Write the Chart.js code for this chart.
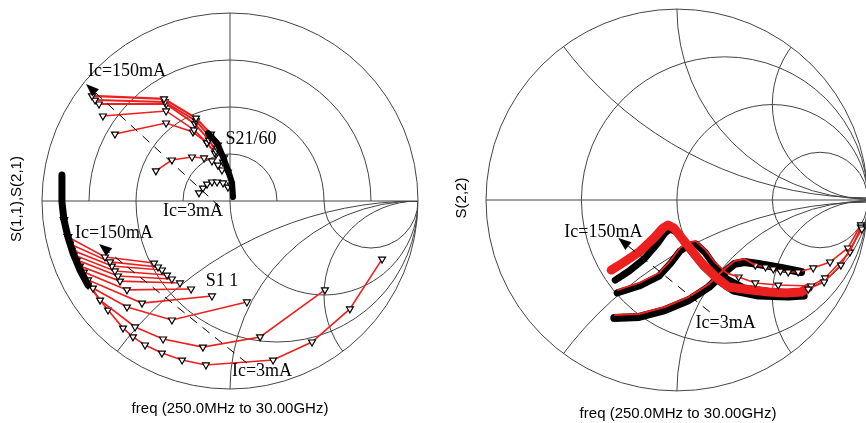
<!DOCTYPE html>
<html lang="en">
<head>
<meta charset="UTF-8" />
<title>S-parameter Smith charts</title>
<script src="https://cdn.jsdelivr.net/npm/chart.js"></script>
<style>
  * { margin: 0; padding: 0; box-sizing: border-box; }
  body { background: #fff; width: 866px; height: 423px; overflow: hidden; position: relative; }
  canvas { position: absolute; top: 0; }
  #left { left: 0; }
  #right { left: 433px; }
</style>
</head>
<body>
<canvas id="left" width="433" height="423"></canvas>
<canvas id="right" width="440" height="423"></canvas>
<script>
// ---- data: reflection coefficient points [re, im] ----
// S21/60 traces (upper half of left chart), Ic = 150mA ... 3mA
const s21Ic150 = [[-0.734,0.559],[-0.351,0.543],[-0.181,0.441],[-0.101,0.356],[-0.064,0.298],[-0.032,0.229],[-0.011,0.154],[0.005,0.085]];
const s21IcB = [[-0.718,0.537],[-0.346,0.527],[-0.181,0.426],[-0.106,0.340],[-0.069,0.282],[-0.037,0.207]];
const s21IcC = [[-0.697,0.516],[-0.340,0.516],[-0.186,0.410],[-0.112,0.324],[-0.074,0.266]];
const s21IcD = [[-0.676,0.452],[-0.340,0.479],[-0.191,0.378],[-0.122,0.309],[-0.080,0.255]];
const s21IcE = [[-0.612,0.356],[-0.340,0.415],[-0.197,0.367],[-0.122,0.309],[-0.074,0.250]];
const s21IcF = [[-0.394,0.160],[-0.309,0.218],[-0.202,0.234],[-0.138,0.229],[-0.096,0.213],[-0.064,0.191],[-0.043,0.165]];
const s21Ic3 = [[-0.165,0.043],[-0.144,0.069],[-0.122,0.090],[-0.096,0.101],[-0.069,0.101],[-0.037,0.096],[-0.011,0.074]];
const s21HighFreq = [[-0.117,0.362],[-0.069,0.309],[-0.037,0.234],[-0.011,0.165],[0.011,0.096],[0.016,0.021]];

// S11 traces (lower half of left chart)
const s11LowFreq = [[-0.894,0.138],[-0.894,-0.005],[-0.883,-0.101],[-0.862,-0.191],[-0.835,-0.277],[-0.798,-0.367],[-0.755,-0.447]];
const s11Ic150 = [[-0.883,-0.101],[-0.862,-0.191],[-0.665,-0.298],[-0.404,-0.330]];
const s11Ic2 = [[-0.883,-0.101],[-0.851,-0.229],[-0.638,-0.324],[-0.383,-0.351]];
const s11Ic3 = [[-0.883,-0.101],[-0.840,-0.261],[-0.628,-0.346],[-0.362,-0.367]];
const s11Ic4 = [[-0.883,-0.101],[-0.830,-0.287],[-0.612,-0.372],[-0.335,-0.394]];
const s11Ic5 = [[-0.862,-0.191],[-0.814,-0.314],[-0.596,-0.399],[-0.309,-0.415]];
const s11Ic6 = [[-0.862,-0.191],[-0.798,-0.346],[-0.585,-0.426],[-0.266,-0.436]];
const s11Ic7 = [[-0.862,-0.191],[-0.777,-0.378],[-0.548,-0.473],[-0.207,-0.468]];
const s11Ic8 = [[-0.862,-0.191],[-0.755,-0.420],[-0.468,-0.543],[-0.096,-0.505]];
const s11Ic9 = [[-0.835,-0.277],[-0.729,-0.463],[-0.548,-0.564],[-0.309,-0.633],[0.090,-0.537]];
const s11Ic10 = [[-0.798,-0.367],[-0.691,-0.527],[-0.505,-0.670],[-0.356,-0.734],[-0.144,-0.777],[0.160,-0.723],[0.505,-0.473]];
const s11Ic3mA = [[-0.755,-0.447],[-0.649,-0.580],[-0.569,-0.676],[-0.516,-0.723],[-0.452,-0.766],[-0.362,-0.809],[-0.255,-0.846],[-0.128,-0.872],[0.229,-0.846],[0.436,-0.750],[0.638,-0.574],[0.809,-0.309]];

// S22 traces (right chart)
const s22HighBandBlack = [[-0.323,-0.417],[-0.250,-0.370],[-0.172,-0.307],[-0.104,-0.229],[-0.063,-0.172],[-0.036,-0.151],[0,-0.167],[0.073,-0.266],[0.141,-0.349],[0.219,-0.422],[0.297,-0.474],[0.427,-0.500],[0.583,-0.505],[0.667,-0.500]];
const s22HighBandRed = [[-0.344,-0.365],[-0.276,-0.323],[-0.198,-0.271],[-0.120,-0.198],[-0.073,-0.146],[-0.047,-0.130],[-0.016,-0.146],[0.063,-0.245],[0.130,-0.328],[0.203,-0.401],[0.271,-0.453],[0.391,-0.469],[0.479,-0.479],[0.568,-0.484],[0.651,-0.479],[0.688,-0.458]];
const s22HighTail = [[0.688,-0.464],[0.771,-0.427],[0.859,-0.339],[0.969,-0.151]];
const s22MidBandBlack = [[-0.313,-0.484],[-0.198,-0.448],[-0.094,-0.396],[-0.031,-0.328],[0.016,-0.266],[0.063,-0.234],[0.099,-0.229],[0.146,-0.271],[0.198,-0.344],[0.260,-0.411],[0.349,-0.458],[0.505,-0.479],[0.661,-0.484]];
const s22MidBandRed = [[-0.313,-0.469],[-0.198,-0.432],[-0.094,-0.380],[-0.031,-0.313],[0.016,-0.250],[0.063,-0.219],[0.099,-0.214],[0.146,-0.255],[0.198,-0.323],[0.260,-0.380],[0.323,-0.401]];
const s22MidTail = [[0.323,-0.401],[0.411,-0.432],[0.531,-0.443],[0.703,-0.448],[0.776,-0.406],[0.906,-0.271],[0.964,-0.141]];
const s22LowBandBlack = [[-0.328,-0.615],[-0.198,-0.609],[-0.063,-0.573],[0.063,-0.521],[0.167,-0.453],[0.250,-0.375],[0.302,-0.333],[0.354,-0.323],[0.427,-0.333],[0.547,-0.354],[0.651,-0.375]];
const s22LowBandRed = [[-0.328,-0.599],[-0.198,-0.594],[-0.063,-0.557],[0.063,-0.505],[0.167,-0.438],[0.250,-0.359],[0.302,-0.318],[0.354,-0.307],[0.411,-0.339]];
const s22LowTail = [[0.411,-0.339],[0.464,-0.349],[0.505,-0.359],[0.542,-0.370],[0.583,-0.375],[0.635,-0.375],[0.714,-0.354],[0.802,-0.323],[0.896,-0.250],[0.964,-0.130]];

// chart grid values
const polarRings = [0.25, 0.5, 0.75];
const resistances = [1/3, 1, 3];
const reactances = [0.5, 1, 2];

const RED = 'rgb(236,32,30)';
const pts = arr => arr.map(([x, y]) => ({ x, y }));

function trace(arr, width) {
  return {
    data: pts(arr), showLine: true, borderColor: RED, borderWidth: width || 1.6,
    pointStyle: 'triangle', pointRotation: 180, pointRadius: 4,
    pointBackgroundColor: '#fff', pointBorderColor: '#000', pointBorderWidth: 1.2,
    order: 1
  };
}
function band(arr, color, width, order) {
  return {
    data: pts(arr), showLine: true, borderColor: color, borderWidth: width,
    pointRadius: 0, borderCapStyle: 'round', borderJoinStyle: 'round', order: order
  };
}
function line(arr, width) {
  return { data: pts(arr), showLine: true, borderColor: RED, borderWidth: width, pointRadius: 0, order: 1 };
}

function smithGrid(polarTop) {
  return {
    id: 'smithGrid',
    beforeDatasetsDraw(chart) {
      const { ctx, scales: { x, y } } = chart;
      const cx = x.getPixelForValue(0), cy = y.getPixelForValue(0);
      const R = x.getPixelForValue(1) - cx;
      ctx.save();
      ctx.strokeStyle = '#444';
      ctx.lineWidth = 1;
      ctx.beginPath(); ctx.arc(cx, cy, R, 0, 2 * Math.PI); ctx.stroke();
      ctx.beginPath(); ctx.moveTo(cx - R, cy); ctx.lineTo(cx + R, cy); ctx.stroke();
      ctx.beginPath(); ctx.arc(cx, cy, R, 0, 2 * Math.PI); ctx.clip();
      if (polarTop) {
        ctx.save();
        ctx.beginPath(); ctx.rect(cx - R, cy - R, 2 * R, R); ctx.clip();
        polarRings.forEach(k => { ctx.beginPath(); ctx.arc(cx, cy, k * R, 0, 2 * Math.PI); ctx.stroke(); });
        ctx.beginPath(); ctx.moveTo(cx, cy - R); ctx.lineTo(cx, cy); ctx.stroke();
        ctx.restore();
        ctx.beginPath(); ctx.rect(cx - R, cy, 2 * R, R + 2); ctx.clip();
      }
      resistances.forEach(r => {
        ctx.beginPath();
        ctx.arc(x.getPixelForValue(r / (r + 1)), cy, R / (r + 1), 0, 2 * Math.PI);
        ctx.stroke();
      });
      reactances.forEach(xv => {
        [xv, -xv].forEach(s => {
          ctx.beginPath();
          ctx.arc(x.getPixelForValue(1), y.getPixelForValue(1 / s), R / Math.abs(s), 0, 2 * Math.PI);
          ctx.stroke();
        });
      });
      ctx.restore();
    }
  };
}

function arrow(ctx, x0, y0, x1, y1) {
  const a = Math.atan2(y1 - y0, x1 - x0), L = 13, W = 5;
  const bx = x1 - L * Math.cos(a), by = y1 - L * Math.sin(a);
  ctx.save();
  ctx.strokeStyle = '#000'; ctx.fillStyle = '#000'; ctx.lineWidth = 1;
  ctx.setLineDash([9, 7]);
  ctx.beginPath(); ctx.moveTo(x0, y0); ctx.lineTo(bx, by); ctx.stroke();
  ctx.setLineDash([]);
  ctx.beginPath();
  ctx.moveTo(x1, y1);
  ctx.lineTo(bx - W * Math.sin(a), by + W * Math.cos(a));
  ctx.lineTo(bx + W * Math.sin(a), by - W * Math.cos(a));
  ctx.closePath(); ctx.fill();
  ctx.restore();
}

function notes(cfg) {
  return {
    id: 'notes',
    afterDatasetsDraw(chart) {
      const { ctx, scales: { x, y } } = chart;
      const P = ([u, v]) => [x.getPixelForValue(u), y.getPixelForValue(v)];
      cfg.arrows.forEach(([from, to]) => { const a = P(from), b = P(to); arrow(ctx, a[0], a[1], b[0], b[1]); });
      ctx.save();
      ctx.fillStyle = '#000';
      ctx.textAlign = 'center'; ctx.textBaseline = 'middle';
      ctx.font = '18px "Liberation Serif", "Times New Roman", serif';
      cfg.labels.forEach(l => { const p = P(l.at); ctx.fillText(l.text, p[0], p[1]); });
      ctx.font = '15px "Liberation Sans", Arial, sans-serif';
      ctx.fillText(cfg.xTitle.text, cfg.xTitle.pos[0], cfg.xTitle.pos[1]);
      ctx.translate(cfg.yTitle.pos[0], cfg.yTitle.pos[1]);
      ctx.rotate(-Math.PI / 2);
      ctx.fillText(cfg.yTitle.text, 0, 0);
      ctx.restore();
    }
  };
}

function smithChart(id, datasets, padding, polarTop, noteCfg) {
  return new Chart(document.getElementById(id), {
    type: 'scatter',
    data: { datasets },
    options: {
      responsive: false,
      animation: false,
      layout: { padding },
      plugins: { legend: { display: false }, tooltip: { enabled: false } },
      scales: {
        x: { type: 'linear', min: -1, max: 1, display: false },
        y: { type: 'linear', min: -1, max: 1, display: false }
      }
    },
    plugins: [smithGrid(polarTop), notes(noteCfg)]
  });
}

smithChart('left', [
  band(s11LowFreq, '#000', 7, 0),
  trace(s11Ic150), trace(s11Ic2), trace(s11Ic3), trace(s11Ic4), trace(s11Ic5), trace(s11Ic6),
  trace(s11Ic7), trace(s11Ic8), trace(s11Ic9), trace(s11Ic10), trace(s11Ic3mA),
  band(s21HighFreq, '#000', 6, 0),
  trace(s21Ic150, 2.2), trace(s21IcB, 2), trace(s21IcC, 2), trace(s21IcD), trace(s21IcE), trace(s21IcF), trace(s21Ic3)
], { left: 42, top: 13, right: 15, bottom: 34 }, true, {
  arrows: [
    [[-0.053, -0.032], [-0.766, 0.622]],
    [[0.090, -0.862], [-0.697, -0.229]]
  ],
  labels: [
    { text: 'Ic=150mA', at: [-0.548, 0.691] },
    { text: 'S21/60', at: [0.112, 0.330] },
    { text: 'Ic=3mA', at: [-0.197, -0.053] },
    { text: 'Ic=150mA', at: [-0.617, -0.170] },
    { text: 'S1 1', at: [-0.043, -0.426] },
    { text: 'Ic=3mA', at: [0.170, -0.904] }
  ],
  xTitle: { text: 'freq (250.0MHz to 30.00GHz)', pos: [230, 409] },
  yTitle: { text: 'S(1,1),S(2,1)', pos: [17, 199] }
});

smithChart('right', [
  band(s22HighBandBlack, '#000', 7, 3),
  band(s22HighBandRed, RED, 9, 2),
  band(s22MidBandBlack, '#000', 7, 3),
  line(s22MidBandRed, 1.8),
  band(s22LowBandBlack, '#000', 8, 3),
  line(s22LowBandRed, 2),
  trace(s22HighTail), trace(s22MidTail), trace(s22LowTail)
], { left: 53, top: 8, right: 3, bottom: 31 }, false, {
  arrows: [
    [[0.172, -0.583], [-0.307, -0.198]]
  ],
  labels: [
    { text: 'Ic=150mA', at: [-0.385, -0.167] },
    { text: 'Ic=3mA', at: [0.255, -0.641] }
  ],
  xTitle: { text: 'freq (250.0MHz to 30.00GHz)', pos: [245, 414] },
  yTitle: { text: 'S(2,2)', pos: [29, 198] }
});
</script>
</body>
</html>
